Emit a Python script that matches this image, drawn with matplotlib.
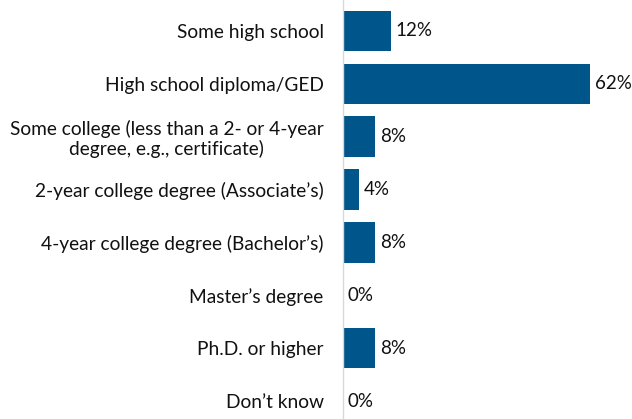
import matplotlib
matplotlib.use("Agg")
import matplotlib.pyplot as plt

categories = [
    "Some high school",
    "High school diploma/GED",
    "Some college (less than a 2- or 4-year\ndegree, e.g., certificate)",
    "2-year college degree (Associate\u2019s)",
    "4-year college degree (Bachelor\u2019s)",
    "Master\u2019s degree",
    "Ph.D. or higher",
    "Don\u2019t know",
]
values = [12, 62, 8, 4, 8, 0, 8, 0]
value_labels = ["12%", "62%", "8%", "4%", "8%", "0%", "8%", "0%"]

plt.rcParams['font.family'] = ['Lato', 'DejaVu Sans']

W, H = 632, 419
fig = plt.figure(figsize=(W / 100, H / 100), dpi=100)
left = 343 / W
ax = fig.add_axes([left, 0, 1 - left, 1])

pos = list(range(len(categories)))
ax.barh(pos, values, height=0.77, color='#00568A')

px_per_unit_x = 3.98
ax.set_xlim(0, (W - 343) / px_per_unit_x)
py = 52.86
ax.set_ylim(7 + (H - 401) / py, -31 / py)

for p, v, lab in zip(pos, values, value_labels):
    ax.annotate(lab, xy=(v, p), xytext=(3.5, 0), textcoords='offset points',
                va='center', ha='left', fontsize=13.5, color='#111111')

ax.set_yticks(pos)
ax.set_yticklabels(categories, fontsize=13.8, color='#111111', multialignment='center',
                   linespacing=1.1)
ax.tick_params(axis='y', length=0, pad=14)
ax.set_xticks([])
for s in ['top', 'right', 'bottom']:
    ax.spines[s].set_visible(False)
ax.spines['left'].set_color('#d9d9d9')
ax.spines['left'].set_linewidth(1.0)
ax.set_facecolor('white')
fig.patch.set_facecolor('white')

fig.savefig('out.png', dpi=100)
